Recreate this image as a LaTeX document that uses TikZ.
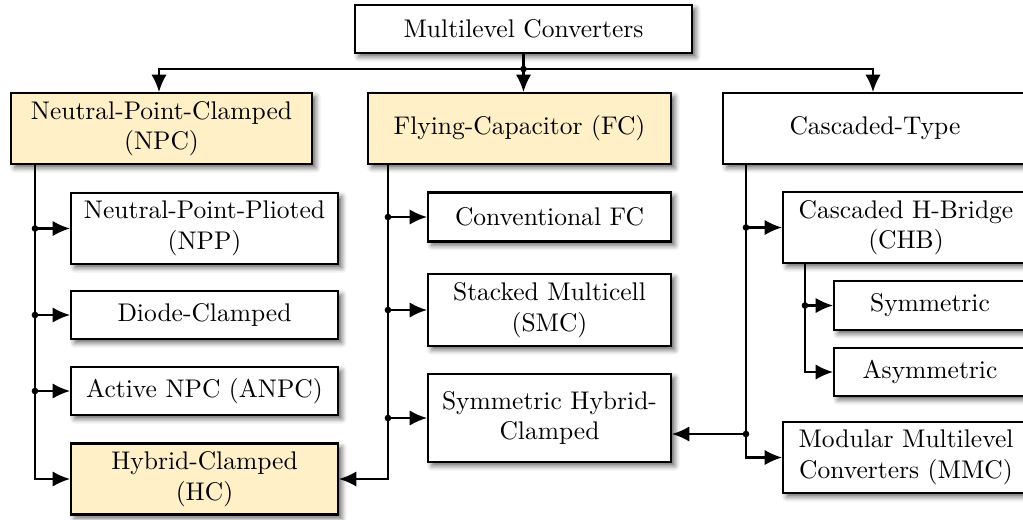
\documentclass[tikz,border=0pt]{standalone}
\usetikzlibrary{arrows.meta,shadows.blur,calc}
\definecolor{boxfill}{RGB}{255,240,200}
\tikzset{
  box/.style={draw=black, line width=0.8pt, fill=white, inner sep=2pt,
    align=center, font=\normalsize,
    blur shadow={shadow xshift=1.5pt, shadow yshift=-1.5pt,
      shadow blur radius=2pt, shadow opacity=60}},
  hl/.style={fill=boxfill},
  link/.style={line width=0.8pt},
  arr/.style={link, -{Latex[length=6.8pt,width=6pt]}},
  jdot/.style={fill=black, circle, inner sep=0pt, minimum size=2.6pt}
}
\begin{document}
\begin{tikzpicture}[x=0.392pt, y=-0.392pt]
\useasboundingbox (0,0) rectangle (1023,519);

% top level
\node[box, minimum width=337*0.392pt, minimum height=48*0.392pt] (top) at (523.5,29) {Multilevel Converters};

% three families
\node[box, hl, minimum width=301*0.392pt, minimum height=71*0.392pt] (npc) at (161.5,128.5) {Neutral-Point-Clamped\\(NPC)};
\node[box, hl, minimum width=303*0.392pt, minimum height=71*0.392pt] (fc) at (519.5,128.5) {Flying-Capacitor (FC)};
\node[box, minimum width=304*0.392pt, minimum height=71*0.392pt] (ct) at (875,128.5) {Cascaded-Type};

% NPC branch
\node[box, minimum width=267*0.392pt, minimum height=71*0.392pt] (npp) at (204.5,228.5) {Neutral-Point-Plioted\\(NPP)};
\node[box, minimum width=267*0.392pt, minimum height=48*0.392pt] (dc) at (204.5,315) {Diode-Clamped};
\node[box, minimum width=267*0.392pt, minimum height=48*0.392pt] (anpc) at (204.5,391) {Active NPC (ANPC)};
\node[box, hl, minimum width=267*0.392pt, minimum height=71*0.392pt] (hc) at (204.5,479) {Hybrid-Clamped\\(HC)};

% FC branch
\node[box, minimum width=243*0.392pt, minimum height=49*0.392pt] (cfc) at (549.5,217) {Conventional FC};
\node[box, minimum width=243*0.392pt, minimum height=72*0.392pt] (smc) at (549.5,310) {Stacked Multicell\\(SMC)};
\node[box, minimum width=243*0.392pt, minimum height=88*0.392pt] (shc) at (549.5,418) {Symmetric Hybrid-\\Clamped};

% cascaded branch
\node[box, minimum width=246*0.392pt, minimum height=71*0.392pt] (chb) at (906,227.5) {Cascaded H-Bridge\\(CHB)};
\node[box, minimum width=192*0.392pt, minimum height=49*0.392pt] (sym) at (930,305.5) {Symmetric};
\node[box, minimum width=192*0.392pt, minimum height=48*0.392pt] (asym) at (930,372) {Asymmetric};
\node[box, minimum width=246*0.392pt, minimum height=71*0.392pt] (mmc) at (906,457.5) {Modular Multilevel\\Converters (MMC)};

% top bus
\path (top.south) ++(0,15) coordinate (bus);
\draw[arr] (bus) -| (npc.north -| 159,0);
\draw[arr] (bus) -| (ct.north -| 873,0);
\draw[arr] (top.south) -- (top.south |- fc.north);
\node[jdot] at (bus) {};

% NPC trunk
\path (npc.south west) ++(25,0) coordinate (npcT);
\draw[arr] (npcT) |- (hc.west);
\foreach \n in {npp,dc,anpc}{
  \draw[arr] (npcT |- \n.west) -- (\n.west);
  \node[jdot] at (npcT |- \n.west) {};
}

% FC trunk
\path (fc.south west) ++(21,0) coordinate (fcT);
\draw[arr] (fcT) |- (hc.east);
\foreach \n in {cfc,smc,shc}{
  \draw[arr] (fcT |- \n.west) -- (\n.west);
  \node[jdot] at (fcT |- \n.west) {};
}

% cascaded trunk
\path (ct.south west) ++(24,0) coordinate (ctT);
\draw[arr] (ctT) |- (mmc.west);
\draw[arr] (ctT |- chb.west) -- (chb.west);
\node[jdot] at (ctT |- chb.west) {};
\coordinate (ctJ) at ($(ctT |- shc.east)+(0,16)$);
\draw[arr] (ctJ) -- (ctJ -| shc.east);
\node[jdot] at (ctJ) {};

% CHB sub-trunk
\path (chb.south west) ++(23,0) coordinate (chbT);
\draw[arr] (chbT) |- (asym.west);
\draw[arr] (chbT |- sym.west) -- (sym.west);
\node[jdot] at (chbT |- sym.west) {};
\end{tikzpicture}
\end{document}
